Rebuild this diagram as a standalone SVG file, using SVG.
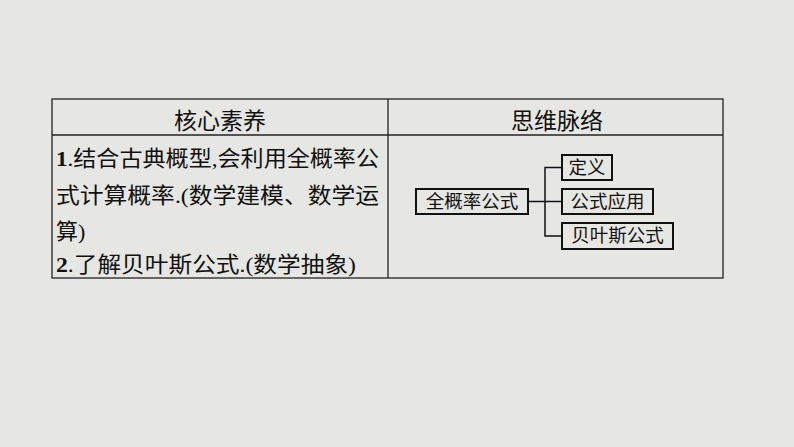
<svg xmlns="http://www.w3.org/2000/svg" width="794" height="447" viewBox="0 0 794 447">
<style>
.t{font-family:"Liberation Serif","Noto Sans CJK SC",serif;font-size:22px;fill:#111}
.h{font-family:"Noto Sans CJK SC",sans-serif;font-size:23px;fill:#111;text-anchor:middle}
.b{fill:none;stroke:#111;stroke-width:2}
.n{font-family:"Noto Sans CJK SC",sans-serif;font-size:18.5px;fill:#111;text-anchor:middle}
.c{fill:none;stroke:#111;stroke-width:1.5}
</style>
<rect width="794" height="447" fill="#e6e6e3"/>
<g id="table" fill="none" stroke="#222" stroke-width="1.3">
<rect x="52" y="99" width="671" height="179"/>
<line x1="52" y1="135" x2="723" y2="135"/>
<line x1="388" y1="99" x2="388" y2="278"/>
</g>
<text class="h" x="220" y="129">核心素养</text>
<text class="h" x="557" y="129">思维脉络</text>
<text class="t" x="56" y="166" textLength="323" lengthAdjust="spacingAndGlyphs"><tspan font-weight="bold">1</tspan>.结合古典概型,会利用全概率公</text>
<text class="t" x="56" y="203" textLength="323" lengthAdjust="spacingAndGlyphs">式计算概率.(数学建模、数学运</text>
<text class="t" x="56" y="239">算)</text>
<text class="t" x="56" y="272" textLength="300" lengthAdjust="spacingAndGlyphs"><tspan font-weight="bold">2</tspan>.了解贝叶斯公式.(数学抽象)</text>
<g id="connectors">
<line class="c" x1="528" y1="201.5" x2="562" y2="201.5"/>
<polyline class="c" points="562,167.5 545,167.5 545,236 562,236"/>
</g>
<g id="n1"><rect class="b" x="416" y="189" width="112" height="25"/><text class="n" x="472" y="208">全概率公式</text></g>
<g id="n2"><rect class="b" x="562" y="155" width="50" height="25"/><text class="n" x="587" y="174">定义</text></g>
<g id="n3"><rect class="b" x="562" y="189" width="91" height="25"/><text class="n" x="607.5" y="208">公式应用</text></g>
<g id="n4"><rect class="b" x="562" y="223" width="111" height="26"/><text class="n" x="617.5" y="242">贝叶斯公式</text></g>
</svg>
